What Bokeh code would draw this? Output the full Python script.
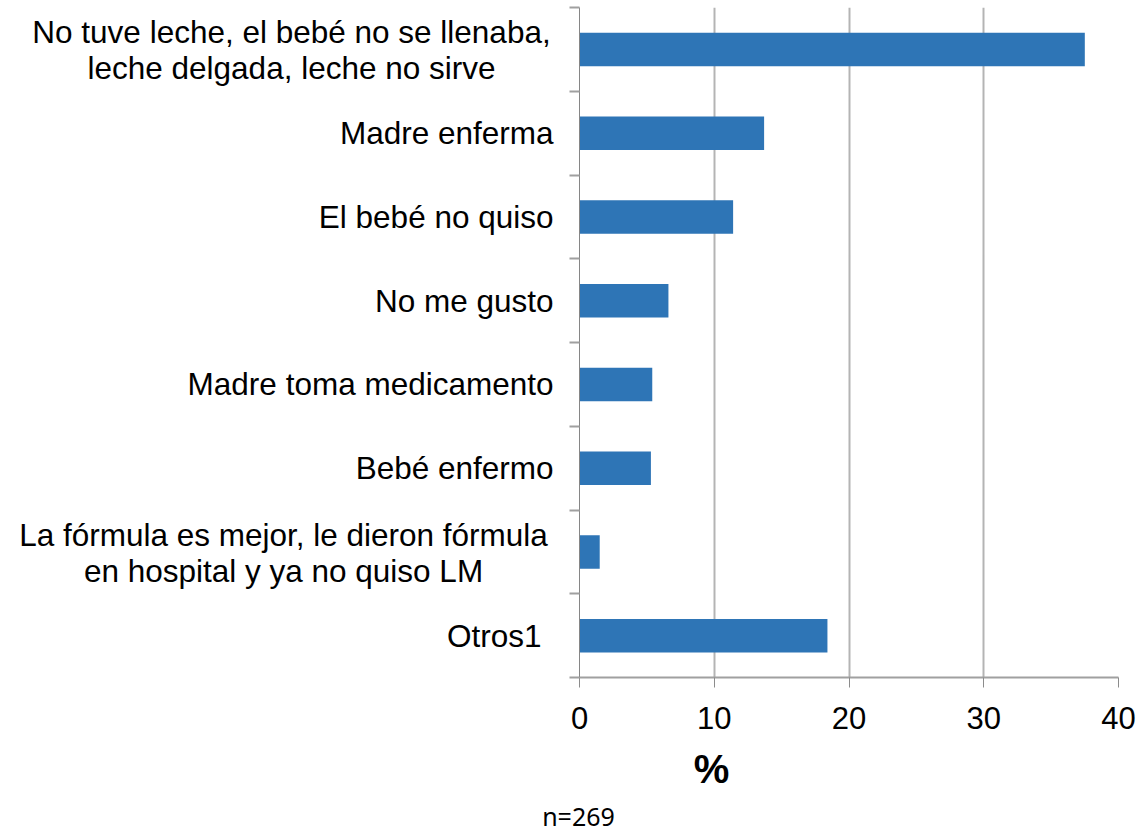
from bokeh.plotting import figure
from bokeh.models import Range1d, FixedTicker
from bokeh.layouts import row, column
from bokeh.core.properties import value
from bokeh.embed import file_html
from bokeh.resources import INLINE

# ---- data ----
categories = [
    ["No tuve leche, el bebé no se llenaba,", "leche delgada, leche no sirve"],
    ["Madre enferma"],
    ["El bebé no quiso"],
    ["No me gusto"],
    ["Madre toma medicamento"],
    ["Bebé enfermo"],
    ["La fórmula es mejor, le dieron fórmula", "en hospital y ya no quiso LM"],
    ["Otros1"],
]
values = [37.5, 13.7, 11.4, 6.6, 5.4, 5.3, 1.5, 18.4]
x_ticks = [0, 10, 20, 30, 40]
x_label = "%"
note = "n=269"

# ---- style / layout ----
FONT = "Liberation Sans"
BAR = "#2E75B6"
n = len(categories)
W, H = 1138, 834
LABEL_W = 569
TOP_H = 737
FRAME_TOP, FRAME_BOTTOM = 7, 677

yr = Range1d(n, 0)
ys = [i + 0.5 for i in range(n)]


def clean(fig):
    fig.outline_line_color = None
    fig.background_fill_color = "white"
    fig.border_fill_color = "white"
    fig.grid.visible = False
    return fig


# label panel (pixel-unit x range)
lab = figure(width=LABEL_W, height=TOP_H, output_backend="svg", toolbar_location=None,
             x_range=Range1d(0, LABEL_W), y_range=yr, x_axis_type=None, y_axis_type=None,
             min_border_left=0, min_border_right=0, min_border_top=FRAME_TOP,
             min_border_bottom=TOP_H - FRAME_BOTTOM)
clean(lab)

right_x = {i: 553 for i in range(n)}
right_x[7] = 541
center_x = {0: 291, 6: 283}
sx, sy, st = [], [], []
cx, cy, ct, coff = [], [], [], []
for i, lines in enumerate(categories):
    if len(lines) == 1:
        sx.append(right_x[i]); sy.append(ys[i]); st.append(lines[0])
    else:
        for k, line in enumerate(lines):
            cx.append(center_x[i]); cy.append(ys[i]); ct.append(line)
            coff.append(-17 if k == 0 else 19)
lab.text(x=sx, y=sy, text=st, text_align="right", text_baseline="middle",
         text_font=value(FONT), text_font_size="31.5px", text_color="black")
lab.text(x=cx, y=cy, text=ct, y_offset=coff, text_align="center", text_baseline="middle",
         text_font=value(FONT), text_font_size="31.5px", text_color="black")

# main chart
p = figure(width=W - LABEL_W, height=TOP_H, output_backend="svg", toolbar_location=None,
           x_range=Range1d(0, 40), y_range=yr,
           min_border_left=10, min_border_right=W - LABEL_W - 10 - 539,
           min_border_top=FRAME_TOP, min_border_bottom=TOP_H - FRAME_BOTTOM)
p.outline_line_color = None
p.background_fill_color = "white"
p.border_fill_color = "white"

p.hbar(y=ys, right=values, left=0, height=0.4, fill_color=BAR, line_color=None)

xa = p.xaxis[0]
xa.ticker = FixedTicker(ticks=x_ticks)
xa.minor_tick_line_color = None
xa.major_tick_out = 10
xa.major_tick_in = 0
xa.axis_line_color = "#A0A0A0"
xa.axis_line_width = 2
xa.major_tick_line_color = "#8C8C8C"
xa.major_label_text_font = FONT
xa.major_label_text_font_size = "31px"
xa.major_label_text_color = "black"
xa.major_label_standoff = 19

ya = p.yaxis[0]
ya.ticker = FixedTicker(ticks=list(range(n + 1)))
ya.major_label_overrides = {i: "" for i in range(n + 1)}
ya.major_label_text_font_size = "1px"
ya.major_label_standoff = 0
ya.minor_tick_line_color = None
ya.major_tick_out = 10
ya.major_tick_in = 0
ya.axis_line_color = "#868686"
ya.major_tick_line_color = "#A0A0A0"
ya.major_tick_line_width = 2

p.xgrid.ticker = FixedTicker(ticks=x_ticks)
p.xgrid.grid_line_color = "#B4B4B4"
p.xgrid.grid_line_width = 2
p.ygrid.grid_line_color = None

# bottom panel (pixel-unit ranges) for the axis title and note
bot = figure(width=W, height=H - TOP_H, output_backend="svg", toolbar_location=None,
             x_range=Range1d(0, W), y_range=Range1d(H, TOP_H), x_axis_type=None,
             y_axis_type=None, min_border=0)
clean(bot)
bot.text(x=[711], y=[768], text=[x_label], text_align="center", text_baseline="middle",
         text_font=value(FONT), text_font_size="40px", text_font_style="bold",
         text_color="black")
bot.text(x=[578], y=[815], text=[note], text_align="center", text_baseline="middle",
         text_font=value("Noto Sans"), text_font_size="25px", text_color="black")

layout = column(row(lab, p, spacing=0), bot, spacing=0)
open("out.html", "w").write(file_html(layout, INLINE))
